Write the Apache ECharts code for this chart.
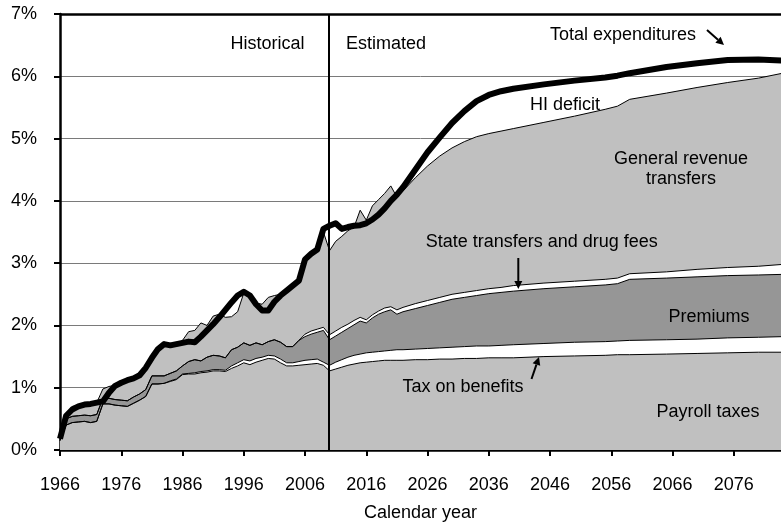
<!DOCTYPE html>
<html><head><meta charset="utf-8">
<script src="https://cdn.jsdelivr.net/npm/echarts@6/dist/echarts.min.js"></script>
<style>html,body{margin:0;padding:0;background:#fff}#c{width:781px;height:527px}</style>
</head><body><div id="c"></div>
<script>
// Calendar years of the data points
const years = [
  1966,1967,1968,1969,1970,1971,1972,1973,1974,1975,
  1976,1977,1978,1979,1980,1981,1982,1983,1984,1985,
  1986,1987,1988,1989,1990,1991,1992,1993,1994,1995,
  1996,1997,1998,1999,2000,2001,2002,2003,2004,2005,
  2006,2007,2008,2009,2010,2011,2012,2013,2014,2015,
  2016,2017,2018,2019,2020,2021,2022,
  2024,2026,2028,2030,2032,2034,2036,2038,2040,
  2045,2050,2055,2057,2059,2065,2070,2075,2080,2084
];
// Total expenditures (% of GDP)
const totalExpenditures = [
  0.18,0.55,0.65,0.70,0.73,0.74,0.76,0.78,0.92,1.03,
  1.08,1.12,1.15,1.20,1.32,1.48,1.62,1.70,1.68,1.70,
  1.72,1.74,1.73,1.82,1.92,2.02,2.13,2.25,2.37,2.48,
  2.54,2.48,2.34,2.24,2.24,2.38,2.48,2.56,2.64,2.72,
  3.06,3.15,3.22,3.55,3.60,3.64,3.55,3.58,3.60,3.61,
  3.64,3.70,3.78,3.88,4.00,4.10,4.22,
  4.50,4.78,5.02,5.25,5.44,5.60,5.70,5.76,5.80,
  5.87,5.93,5.98,6.01,6.05,6.15,6.21,6.26,6.27,6.25
];
// Cumulative income levels (top of each stacked source, % of GDP)
const generalRevenueTop = [
  0.18,0.58,0.70,0.71,0.73,0.74,0.76,0.98,1.02,1.04,
  1.08,1.12,1.15,1.21,1.34,1.54,1.64,1.70,1.68,1.70,
  1.76,1.90,1.92,2.04,2.00,2.15,2.18,2.13,2.14,2.22,
  2.52,2.46,2.36,2.34,2.45,2.48,2.50,2.55,2.63,2.70,
  3.04,3.12,3.20,3.50,3.20,3.35,3.43,3.52,3.58,3.85,
  3.69,3.92,4.02,4.12,4.24,4.06,4.16,
  4.37,4.56,4.72,4.85,4.95,5.03,5.08,5.12,5.16,
  5.26,5.36,5.47,5.52,5.63,5.73,5.82,5.90,5.97,6.05
];
const stateTransfersTop = [
  0.17,0.50,0.54,0.55,0.56,0.55,0.57,0.83,0.83,0.81,
  0.80,0.79,0.85,0.90,0.97,1.19,1.19,1.19,1.23,1.27,
  1.35,1.42,1.45,1.43,1.49,1.52,1.51,1.48,1.61,1.65,
  1.72,1.68,1.72,1.69,1.74,1.77,1.73,1.66,1.66,1.76,
  1.86,1.91,1.94,1.97,1.85,1.91,1.97,2.02,2.08,2.13,
  2.09,2.17,2.23,2.28,2.30,2.25,2.29,
  2.35,2.40,2.45,2.50,2.53,2.56,2.59,2.61,2.64,
  2.68,2.71,2.74,2.76,2.83,2.86,2.90,2.93,2.95,2.98
];
const premiumsTop = [
  0.17,0.50,0.54,0.55,0.56,0.55,0.57,0.83,0.83,0.81,
  0.80,0.79,0.85,0.90,0.97,1.19,1.19,1.19,1.23,1.27,
  1.35,1.42,1.45,1.43,1.49,1.52,1.51,1.48,1.61,1.65,
  1.72,1.68,1.72,1.69,1.74,1.77,1.73,1.66,1.66,1.76,
  1.82,1.86,1.89,1.92,1.77,1.83,1.89,1.95,2.01,2.07,
  2.04,2.12,2.18,2.22,2.25,2.18,2.22,
  2.27,2.32,2.37,2.42,2.45,2.48,2.51,2.53,2.55,
  2.59,2.62,2.65,2.67,2.74,2.76,2.78,2.80,2.81,2.82
];
const taxOnBenefitsTop = [
  0.15,0.40,0.44,0.45,0.46,0.44,0.46,0.74,0.74,0.72,
  0.71,0.70,0.75,0.80,0.86,1.06,1.06,1.07,1.11,1.14,
  1.22,1.23,1.24,1.26,1.27,1.29,1.29,1.28,1.35,1.40,
  1.45,1.43,1.47,1.49,1.52,1.51,1.46,1.40,1.40,1.42,
  1.44,1.45,1.46,1.41,1.36,1.41,1.45,1.49,1.52,1.54,
  1.56,1.57,1.58,1.59,1.60,1.61,1.61,
  1.62,1.63,1.64,1.65,1.66,1.67,1.67,1.68,1.69,
  1.71,1.73,1.74,1.75,1.76,1.77,1.78,1.80,1.81,1.82
];
const payrollTaxes = [
  0.15,0.40,0.44,0.45,0.46,0.44,0.46,0.74,0.74,0.72,
  0.71,0.70,0.75,0.80,0.86,1.06,1.06,1.07,1.10,1.13,
  1.21,1.22,1.22,1.24,1.25,1.27,1.27,1.26,1.31,1.35,
  1.40,1.37,1.41,1.44,1.47,1.46,1.40,1.35,1.35,1.36,
  1.37,1.38,1.39,1.36,1.27,1.30,1.33,1.36,1.38,1.40,
  1.41,1.42,1.43,1.44,1.44,1.44,1.44,
  1.45,1.45,1.46,1.46,1.47,1.47,1.48,1.48,1.48,
  1.50,1.51,1.52,1.53,1.53,1.54,1.55,1.56,1.57,1.57
];
const yTickLabels = ['0%','1%','2%','3%','4%','5%','6%','7%'];
const boundaryYear = 2009.8;

const FONT = '"Liberation Sans", Arial, sans-serif';
const pairs = arr => years.map((y, i) => [y, arr[i]]);
function band(name, arr, fill) {
  return {
    name, type: 'line', data: pairs(arr), symbol: 'none', clip: true,
    lineStyle: { color: '#000', width: 1 },
    areaStyle: { color: fill, opacity: 1 },
    emphasis: { disabled: true }, silent: true
  };
}
function txt(text, x, y) {
  return { type: 'text', x, y, z: 100, silent: true,
    style: { text, fill: '#000', font: '18px ' + FONT, align: 'center', verticalAlign: 'middle', lineHeight: 20 } };
}
function arrow(x1, y1, x2, y2) {
  const dx = x2 - x1, dy = y2 - y1, L = Math.hypot(dx, dy), ux = dx / L, uy = dy / L;
  const hl = 8, hw = 4, bx = x2 - ux * hl, by = y2 - uy * hl;
  return [
    { type: 'line', z: 100, silent: true, shape: { x1, y1, x2: bx, y2: by }, style: { stroke: '#000', lineWidth: 2 } },
    { type: 'polygon', z: 100, silent: true, shape: { points: [[x2, y2], [bx - uy * hw, by + ux * hw], [bx + uy * hw, by - ux * hw]] }, style: { fill: '#000' } }
  ];
}

const chart = echarts.init(document.getElementById('c'), null, { renderer: 'canvas' });
chart.setOption({
  animation: false,
  backgroundColor: '#fff',
  grid: { left: 60, right: 0, top: 14, bottom: 74, containLabel: false },
  xAxis: {
    type: 'value', min: 1966, max: 2083.7, interval: 10,
    axisLine: { show: true, lineStyle: { color: '#000', width: 2.5 } },
    axisTick: { show: true, length: 6, lineStyle: { color: '#000', width: 2 } },
    axisLabel: { margin: 26, fontSize: 18, color: '#000', fontFamily: FONT, showMaxLabel: false,
      formatter: v => Number.isInteger(v) ? String(v) : '' },
    splitLine: { show: false },
    name: 'Calendar year', nameLocation: 'middle', nameGap: 54,
    nameTextStyle: { fontSize: 18, color: '#000', fontFamily: FONT }
  },
  yAxis: {
    type: 'value', min: 0, max: 7, interval: 1,
    axisLine: { show: true, lineStyle: { color: '#000', width: 2.5 } },
    axisTick: { show: true, length: 6, lineStyle: { color: '#000', width: 2 } },
    axisLabel: { margin: 23, fontSize: 18, color: '#000', fontFamily: FONT,
      formatter: v => yTickLabels[Math.round(v)] },
    splitLine: { show: true, lineStyle: { color: '#7a7a7a', width: 1 } }
  },
  series: [
    band('General revenue transfers', generalRevenueTop, '#c0c0c0'),
    band('State transfers and drug fees', stateTransfersTop, '#ffffff'),
    band('Premiums', premiumsTop, '#969696'),
    band('Tax on benefits', taxOnBenefitsTop, '#ffffff'),
    band('Payroll taxes', payrollTaxes, '#c0c0c0'),
    {
      name: 'Total expenditures', type: 'line', data: pairs(totalExpenditures), symbol: 'none', clip: true,
      lineStyle: { color: '#000', width: 6, join: 'round' }, z: 5, silent: true,
      markLine: {
        silent: true, symbol: 'none', label: { show: false },
        data: [
          { xAxis: boundaryYear, lineStyle: { color: '#000', width: 2, type: 'solid' } },
          { yAxis: 7, lineStyle: { color: '#000', width: 2.5, type: 'solid' } }
        ]
      }
    }
  ],
  graphic: [
    txt('Historical', 267.5, 44),
    txt('Estimated', 386, 44),
    txt('Total expenditures', 623, 35),
    txt('HI deficit', 565, 105),
    txt('General revenue\ntransfers', 681, 169.5),
    txt('State transfers and drug fees', 541.7, 242),
    txt('Premiums', 709, 317),
    txt('Tax on benefits', 463, 387.5),
    txt('Payroll taxes', 708, 412),
    ...arrow(707, 30, 724, 45),
    ...arrow(518.3, 258, 518.3, 289),
    ...arrow(531.5, 379, 539, 357)
  ]
});
</script>
</body></html>
